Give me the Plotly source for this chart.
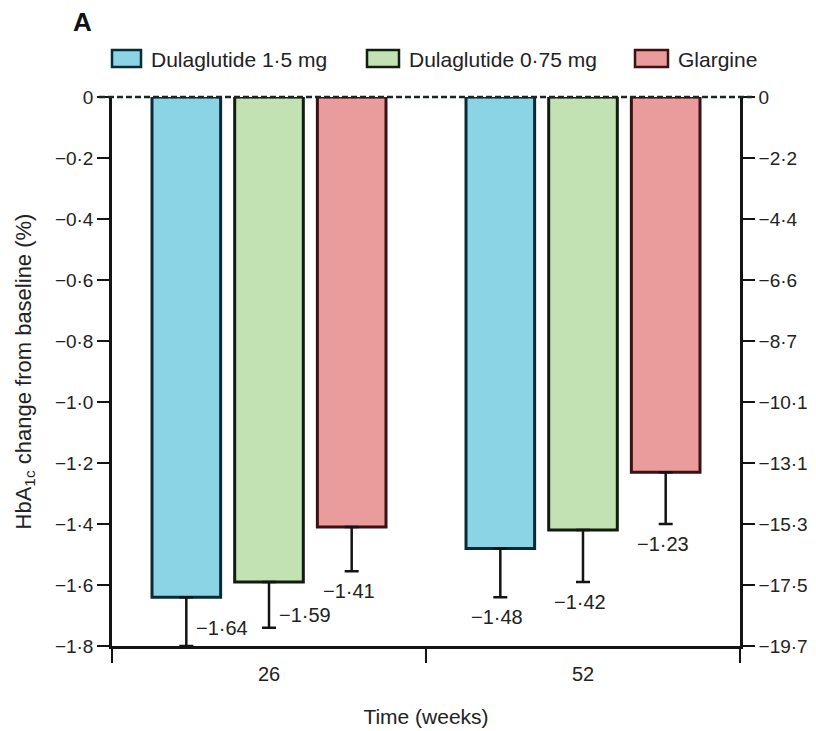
import plotly.graph_objects as go

# ---- data -------------------------------------------------------------
weeks = ["26", "52"]
series_names = ["Dulaglutide 1·5 mg", "Dulaglutide 0·75 mg", "Glargine"]
dula_15 = [-1.64, -1.48]
dula_075 = [-1.59, -1.42]
glargine = [-1.41, -1.23]
err_15 = [0.16, 0.16]
err_075 = [0.15, 0.17]
err_glargine = [0.145, 0.17]

left_ticks = [0, -0.2, -0.4, -0.6, -0.8, -1.0, -1.2, -1.4, -1.6, -1.8]
left_tick_labels = ["0", "−0·2", "−0·4", "−0·6", "−0·8", "−1·0",
                    "−1·2", "−1·4", "−1·6", "−1·8"]
right_tick_labels = ["0", "−2·2", "−4·4", "−6·6", "−8·7", "−10·1",
                     "−13·1", "−15·3", "−17·5", "−19·7"]

# ---- style ------------------------------------------------------------
FONT = "Liberation Sans, Arial, sans-serif"
TEXT = "#222222"
AXIS = "#141414"
fills = ["#8ad4e6", "#c3e2b3", "#ea9b9c"]
edges = ["#0c2a33", "#111d0f", "#3a1212"]
BARGAP = 0.21
BARGROUPGAP = 0.17
# where each value label sits relative to its error-bar cap
label_side = [["right", "right", "below"], ["below", "below", "below"]]

W, H = 816, 731
L, R, T, B = 112, 76, 97, 85
plot_w, plot_h = W - L - R, H - T - B


def px(x):
    return (x - L) / plot_w


def py(y):
    return (H - B - y) / plot_h


values = [dula_15, dula_075, glargine]
errors = [err_15, err_075, err_glargine]

fig = go.Figure()
for name, vals, errs, fill, edge in zip(series_names, values, errors, fills, edges):
    fig.add_trace(go.Bar(
        x=weeks, y=vals, name=name,
        marker=dict(color=fill, line=dict(color=edge, width=3)),
        error_y=dict(type="data", symmetric=False, array=[0] * len(errs),
                     arrayminus=errs, color=AXIS, thickness=2.5, width=7),
        showlegend=False, hoverinfo="x+y",
    ))

# invisible helper so the secondary (mmol/mol) axis is drawn
fig.add_trace(go.Scatter(x=weeks, y=dula_15, yaxis="y2", mode="markers",
                         marker=dict(opacity=0), showlegend=False,
                         hoverinfo="skip"))

# value labels under / beside the error bars
slot = (1 - BARGAP) / len(series_names)
annotations = []
for i in range(len(weeks)):
    for j, (vals, errs) in enumerate(zip(values, errors)):
        v, e = vals[i], errs[i]
        txt = "−" + f"{abs(v):.2f}".replace(".", "·")
        xc = i + (j - (len(series_names) - 1) / 2) * slot
        if label_side[i][j] == "right":
            a = dict(xanchor="left", xshift=8, yshift=18 if j == 0 else 13)
        else:
            a = dict(xanchor="center", xshift=-3, yshift=-20)
        annotations.append(dict(
            x=xc, y=v - e, xref="x", yref="y", text=txt, showarrow=False,
            yanchor="middle", font=dict(family=FONT, size=20, color=TEXT), **a))

# panel letter
annotations.append(dict(x=px(82), y=py(22), xref="paper", yref="paper",
                        text="<b>A</b>", showarrow=False, xanchor="center",
                        yanchor="middle",
                        font=dict(family=FONT, size=26, color="#111")))

# legend drawn as swatches + text across the top
shapes = []
legend_swatch_x = [(112, 141), (367, 399), (635, 668)]
for (x0, x1), name, fill, edge in zip(legend_swatch_x, series_names, fills, edges):
    shapes.append(dict(type="rect", xref="paper", yref="paper",
                       x0=px(x0), x1=px(x1), y0=py(67), y1=py(50),
                       fillcolor=fill, line=dict(color=edge, width=2.5)))
    annotations.append(dict(x=px(x1 + 8), y=py(59), xref="paper", yref="paper",
                            text=name, showarrow=False, xanchor="left",
                            yanchor="middle",
                            font=dict(family=FONT, size=21, color=TEXT)))

# dashed baseline at zero (the top edge of the value range), spanning
# across both axes' tick marks
shapes.append(dict(type="line", xref="paper", yref="paper",
                   x0=px(99), x1=px(752), y0=1, y1=1,
                   line=dict(color="#1a2626", width=2.5, dash="6px,3px"),
                   layer="above"))

axis_common = dict(range=[-1.8, 0], tickvals=left_ticks, ticks="outside",
                   ticklen=12, tickwidth=2, tickcolor=AXIS, showline=True,
                   linecolor=AXIS, linewidth=2.5, showgrid=False,
                   zeroline=False, automargin=False,
                   tickfont=dict(family=FONT, size=19, color=TEXT))

fig.update_layout(
    width=W, height=H,
    margin=dict(l=L, r=R, t=T, b=B, pad=0),
    paper_bgcolor="white", plot_bgcolor="white",
    barmode="group", bargap=BARGAP, bargroupgap=BARGROUPGAP,
    xaxis=dict(type="category", tickson="boundaries", ticks="outside",
               ticklen=14, tickwidth=2, tickcolor=AXIS, showline=True,
               linecolor=AXIS, linewidth=2.5, showgrid=False,
               ticklabelstandoff=8, automargin=False,
               tickfont=dict(family=FONT, size=20, color=TEXT),
               title=dict(text="Time (weeks)", standoff=26,
                          font=dict(family=FONT, size=21, color=TEXT))),
    yaxis=dict(ticktext=left_tick_labels,
               title=dict(text="HbA<sub>1c</sub> change from baseline (%)",
                          standoff=18,
                          font=dict(family=FONT, size=22, color=TEXT)),
               **axis_common),
    yaxis2=dict(overlaying="y", side="right", anchor="x",
                ticktext=right_tick_labels, **axis_common),
    shapes=shapes, annotations=annotations,
    showlegend=False,
)

fig.write_html("out.html")
